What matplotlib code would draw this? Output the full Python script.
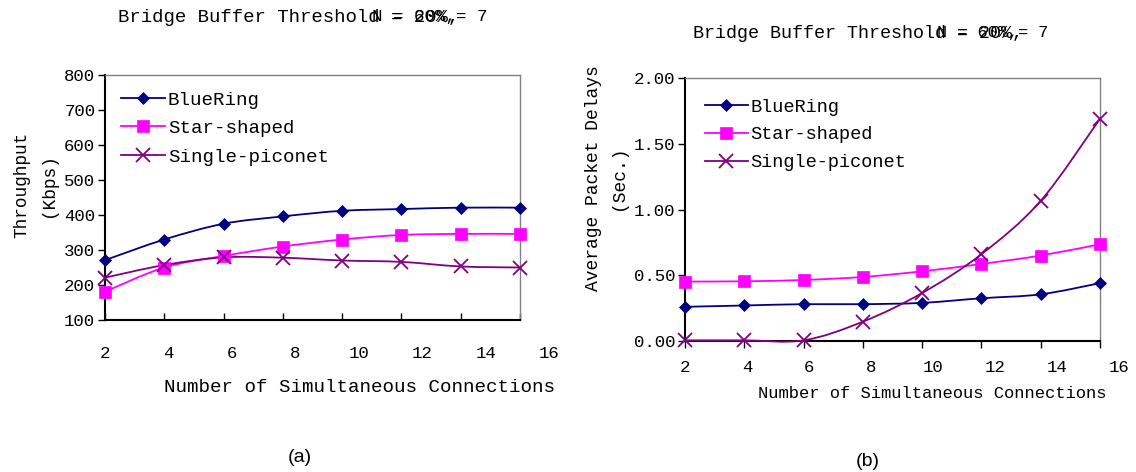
import matplotlib
matplotlib.use("Agg")
import matplotlib.pyplot as plt
import numpy as np
from matplotlib.path import Path
from matplotlib.patches import PathPatch
from matplotlib.lines import Line2D

# ---------------- data ----------------
x_labels = ["2", "4", "6", "8", "10", "12", "14", "16"]
series_names = ["BlueRing", "Star-shaped", "Single-piconet"]

throughput_bluering = [271, 330, 375, 396, 412, 417, 421, 421]
throughput_star = [181, 250, 283, 310, 330, 343, 346, 346]
throughput_single = [221, 257, 279, 278, 270, 266, 253, 250]

delay_bluering = [0.26, 0.27, 0.28, 0.28, 0.29, 0.325, 0.355, 0.44]
delay_star = [0.452, 0.454, 0.464, 0.487, 0.53, 0.586, 0.65, 0.736]
delay_single = [0.005, 0.005, 0.005, 0.147, 0.365, 0.66, 1.066, 1.69]

title_main = "Bridge Buffer Threshold = 20%,"
title_over = "N = 60%,= 7"
xlabel = "Number of Simultaneous Connections"

# ---------------- style ----------------
colors = ["#000080", "#FF00FF", "#800080"]
markers = ["D", "s", "x"]
msizes = [6.5, 8, 10]
MONO = "Liberation Mono"

W, H = 1136, 472
fig = plt.figure(figsize=(W / 100, H / 100), dpi=100)


def px_axes(l, t, r, b):
    return fig.add_axes([l / W, 1 - b / H, (r - l) / W, (b - t) / H])


def smooth_line(ax, xs, ys, color):
    P = np.column_stack([np.asarray(xs, float), np.asarray(ys, float)])
    n = len(P)
    verts = [tuple(P[0])]
    codes = [Path.MOVETO]
    for i in range(n - 1):
        p0 = P[i - 1] if i > 0 else P[i]
        p1 = P[i]
        p2 = P[i + 1]
        p3 = P[i + 2] if i + 2 < n else P[i + 1]
        c1 = p1 + (p2 - p0) / 6.0
        c2 = p2 - (p3 - p1) / 6.0
        verts += [tuple(c1), tuple(c2), tuple(p2)]
        codes += [Path.CURVE4] * 3
    patch = PathPatch(Path(verts, codes), fill=False, edgecolor=color,
                      linewidth=1.3, transform=ax.transData, zorder=3,
                      clip_on=False)
    ax.add_patch(patch)


def draw_panel(ax, data, ylim, yticks, yfmt, tick_dir, label_spread,
               label_pad, xlab_pos, xlab_size, leg_anchor, leg_size):
    xs = np.arange(len(x_labels))
    for vals, c, m, ms, name in zip(data, colors, markers, msizes, series_names):
        smooth_line(ax, xs, vals, c)
        ax.plot(xs, vals, linestyle="None", color=c, marker=m, markersize=ms,
                markeredgewidth=1.3 if m == "x" else 0.5,
                markerfacecolor=c, markeredgecolor=c,
                zorder=4, clip_on=False, label=name)
    ax.set_xlim(0, len(x_labels) - 1)
    ax.set_ylim(*ylim)
    ax.set_yticks(yticks)
    ax.set_yticklabels([yfmt.format(v) for v in yticks], fontfamily=MONO,
                       fontsize=12.5)
    ax.set_xticks(xs)
    ax.set_xticklabels([])
    ax.tick_params(axis="x", direction=tick_dir, length=5, width=1)
    ax.tick_params(axis="y", direction="out", length=5, width=1, pad=2)
    for s in ["left", "bottom"]:
        ax.spines[s].set_color("black")
        ax.spines[s].set_linewidth(1.5)
    for s in ["top", "right"]:
        ax.spines[s].set_color("#808080")
        ax.spines[s].set_linewidth(1.0)
    trans = ax.get_xaxis_transform()
    for i, lab in enumerate(x_labels):
        ax.annotate(lab, xy=(i * label_spread, 0), xycoords=trans,
                    xytext=(0, -label_pad), textcoords="offset pixels",
                    ha="center", va="center", fontfamily=MONO, fontsize=12.5,
                    annotation_clip=False)
    fig.text(xlab_pos[0] / W, 1 - xlab_pos[1] / H, xlabel, ha="center",
             va="center", fontfamily=MONO, fontsize=xlab_size)
    leg_h = [Line2D([], [], color=c, marker=m, markersize=ms, lw=1.3,
                    markerfacecolor=c, markeredgecolor=c,
                    markeredgewidth=1.3 if m == "x" else 0.5)
             for c, m, ms in zip(colors, markers, msizes)]
    ax.legend(leg_h, series_names, loc="upper left",
              bbox_to_anchor=leg_anchor, frameon=False,
              prop={"family": MONO, "size": leg_size}, handlelength=2.3,
              handletextpad=0.15, labelspacing=0.58, borderaxespad=0)


# ---------------- panel (a) ----------------
axa = px_axes(105, 75, 520, 320)
draw_panel(axa, [throughput_bluering, throughput_star, throughput_single],
           (100, 800), [100, 200, 300, 400, 500, 600, 700, 800], "{:.0f}",
           "in", 1.07, 34, (360, 387), 13.8, (0.02, 0.965), 13.8)
fig.text(22 / W, 1 - 185 / H, "Throughput", rotation=90, ha="center",
         va="center", fontfamily=MONO, fontsize=12.8)
fig.text(48 / W, 1 - 185 / H, "(Kbps)", rotation=90, ha="center",
         va="center", fontfamily=MONO, fontsize=12.8)

# ---------------- panel (b) ----------------
axb = px_axes(685, 78, 1100, 341)
draw_panel(axb, [delay_bluering, delay_star, delay_single],
           (0, 2.0), [0.0, 0.5, 1.0, 1.5, 2.0], "{:.2f}",
           "out", 1.045, 27, (932, 394), 12.3, (0.03, 0.95), 13.4)
fig.text(594 / W, 1 - 178 / H, "Average Packet Delays", rotation=90,
         ha="center", va="center", fontfamily=MONO, fontsize=13)
fig.text(618 / W, 1 - 178 / H, "(Sec.)", rotation=90, ha="center",
         va="center", fontfamily=MONO, fontsize=13)

# ---------------- titles (overlapping strings as in the source) ----------------
for (x0, y0, fs, cw) in [(118, 17, 13.7, 11.45), (693, 33, 13.2, 11.0)]:
    fig.text(x0 / W, 1 - y0 / H, title_main, ha="left", va="center",
             fontfamily=MONO, fontsize=fs)
    fig.text((x0 + 22 * cw + 2) / W, 1 - y0 / H, title_over, ha="left",
             va="center", fontfamily=MONO, fontsize=fs * 0.92)

fig.text(300 / W, 1 - 457 / H, "(a)", ha="center", va="center",
         fontfamily=["Liberation Sans Narrow", "Liberation Sans"], fontsize=14)
fig.text(868 / W, 1 - 462 / H, "(b)", ha="center", va="center",
         fontfamily=["Liberation Sans Narrow", "Liberation Sans"], fontsize=14)

fig.savefig("out.png", dpi=100)
